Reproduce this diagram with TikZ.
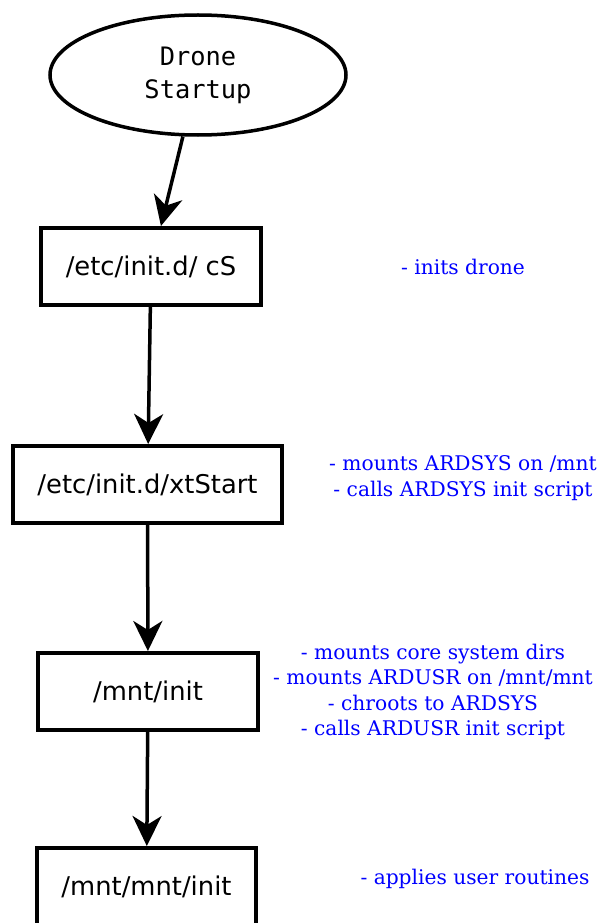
\documentclass[tikz,border=0pt]{standalone}
\usepackage{fontspec}
\setmainfont{DejaVu Serif}
\newfontfamily\boxfont{DejaVu Sans}
\newfontfamily\ellfont{DejaVu Sans Mono}
\usetikzlibrary{shapes.geometric,arrows.meta}
\begin{document}
\begin{tikzpicture}[x=1pt,y=-1pt,
  stepbox/.style={draw,line width=4pt,rectangle,minimum height=77pt,inner sep=0pt,
    font=\boxfont\fontsize{25.8}{30}\selectfont},
  startell/.style={draw,line width=3.5pt,ellipse,minimum width=296pt,minimum height=120pt,inner sep=0pt,
    align=center,font=\ellfont\fontsize{25.4}{33}\selectfont},
  note/.style={text=blue,align=center,inner sep=0pt,font=\fontsize{20.2}{25.5}\selectfont},
  flow/.style={line width=3.5pt,-{Stealth[length=30pt,width=29pt,inset=9pt]}}]
\useasboundingbox (0,0) rectangle (598,923);
\clip (0,0) rectangle (598,923);
\node[startell] (start) at (198,75) {Drone\\Startup};
\node[stepbox,minimum width=220pt] (b1) at (151,266.5) {/etc/init.d/ cS};
\node[stepbox,minimum width=269pt] (b2) at (147.5,484.5) {/etc/init.d/xtStart};
\node[stepbox,minimum width=220pt] (b3) at (148,691.5) {/mnt/init};
\node[stepbox,minimum width=219pt] (b4) at (146.5,886.5) {/mnt/mnt/init};
\draw[flow] (start) -- (b1);
\draw[flow] (b1) -- (b2);
\draw[flow] (b2) -- (b3);
\draw[flow] (b3) -- (b4);
\node[note] (n1) at (463,267) {- inits drone};
\node[note] (n2) at (463,478) {- mounts ARDSYS on /mnt\\- calls ARDSYS init script};
\node[note] (n3) at (433,692) {- mounts core system dirs\\- mounts ARDUSR on /mnt/mnt\\- chroots to ARDSYS\\- calls ARDUSR init script};
\node[note] (n4) at (475,879) {- applies user routines};
\end{tikzpicture}
\end{document}
